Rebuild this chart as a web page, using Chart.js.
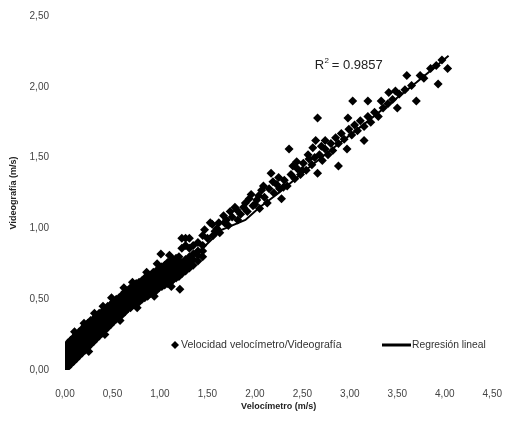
<!DOCTYPE html>
<html lang="es">
<head>
    <meta charset="UTF-8">
    <title>Velocímetro vs Videografía</title>
    <script src="https://cdn.jsdelivr.net/npm/chart.js@4.4.1/dist/chart.umd.min.js"></script>
    <style>
        * { margin: 0; padding: 0; }
        body { background: #fff; }
    </style>
</head>
<body>
<canvas id="myChart" width="512" height="423"></canvas>
<script>
    // banda densa: cada fila = [velocímetro, videografía, videografía, ...]
    var zonaBaja = [
        [0.00, 0.00,0.04,0.08,0.12,0.17],
        [0.03, 0.02,0.06,0.10,0.15,0.19],
        [0.06, 0.04,0.08,0.13,0.17,0.21],
        [0.09, 0.06,0.10,0.15,0.19,0.23],
        [0.12, 0.08,0.12,0.17,0.21,0.25],
        [0.15, 0.10,0.14,0.19,0.23,0.27],
        [0.18, 0.12,0.16,0.21,0.25,0.29],
        [0.21, 0.14,0.18,0.23,0.27,0.31],
        [0.24, 0.16,0.20,0.25,0.29,0.33],
        [0.27, 0.18,0.22,0.27,0.31,0.35],
        [0.30, 0.20,0.24,0.28,0.32,0.36],
        [0.33, 0.22,0.26,0.30,0.34,0.38],
        [0.36, 0.24,0.28,0.32,0.36,0.40],
        [0.39, 0.26,0.30,0.34,0.38,0.41],
        [0.42, 0.28,0.32,0.36,0.40,0.43],
        [0.45, 0.30,0.34,0.38,0.42,0.45],
        [0.48, 0.32,0.36,0.40,0.43,0.46],
        [0.51, 0.34,0.38,0.41,0.45,0.48],
        [0.54, 0.36,0.40,0.43,0.47,0.50],
        [0.57, 0.38,0.41,0.45,0.48,0.51],
        [0.60, 0.39,0.43,0.46,0.50,0.53],
        [0.63, 0.41,0.45,0.48,0.52,0.55],
        [0.66, 0.43,0.46,0.50,0.53,0.56],
        [0.69, 0.44,0.48,0.51,0.55,0.58],
        [0.72, 0.46,0.49,0.53,0.56,0.59],
        [0.75, 0.47,0.51,0.54,0.58,0.61],
        [0.78, 0.48,0.52,0.55,0.59,0.62],
        [0.81, 0.50,0.53,0.57,0.60,0.63],
        [0.84, 0.51,0.55,0.58,0.62,0.65],
        [0.87, 0.52,0.56,0.59,0.63,0.66],
        [0.90, 0.54,0.57,0.61,0.64,0.67],
        [0.93, 0.55,0.59,0.62,0.66,0.69],
        [0.96, 0.56,0.60,0.63,0.67,0.70],
        [0.99, 0.58,0.61,0.65,0.68,0.71],
        [1.01, 0.82],
        [1.02, 0.59,0.63,0.66,0.70,0.73],
        [1.05, 0.60,0.64,0.67,0.71,0.74],
        [1.08, 0.61,0.65,0.69,0.72,0.76],
        [1.11, 0.62,0.66,0.70,0.74,0.77],
        [1.14, 0.64,0.68,0.71,0.75,0.78],
        [1.17, 0.65,0.69,0.72,0.76,0.79],
        [1.20, 0.66,0.70,0.73,0.77,0.80],
        [1.21, 0.57],
        [1.23, 0.68,0.72,0.76,0.86,0.93],
        [1.27, 0.70,0.74,0.78,0.88,0.93],
        [1.31, 0.72,0.76,0.80,0.86,0.93],
        [1.35, 0.74,0.78,0.82,0.88],
        [1.40, 0.77,0.81,0.84,0.90],
        [1.45, 0.80,0.84,0.88,0.95]
    ];

    // puntos que sobresalen de la banda [velocímetro, videografía]
    var bordes = [
        [0.10,0.27],[0.20,0.33],[0.31,0.40],[0.40,0.45],[0.49,0.51],
        [0.62,0.58],[0.71,0.62],[0.86,0.69],[0.97,0.75],[1.10,0.81],
        [0.25,0.13],[0.42,0.25],[0.58,0.35],[0.76,0.44],[0.94,0.52],
        [1.12,0.59]
    ];

    // velocidades altas, puntos sueltos [velocímetro, videografía]
    var zonaAlta = [
        [1.47,0.99],[1.50,0.93],[1.53,1.04],[1.55,1.03],[1.56,0.95],
        [1.58,0.98],[1.60,1.00],[1.62,1.04],[1.63,0.97],[1.67,1.09],
        [1.68,1.04],[1.70,1.06],[1.72,1.02],[1.74,1.12],[1.76,1.08],
        [1.79,1.15],[1.81,1.13],[1.82,1.06],[1.85,1.10],[1.88,1.15],
        [1.90,1.18],[1.92,1.12],[1.94,1.21],[1.96,1.24],[1.98,1.16],
        [2.00,1.17],[2.02,1.20],[2.04,1.23],[2.05,1.14],[2.07,1.27],
        [2.09,1.30],[2.10,1.22],[2.13,1.18],[2.15,1.28],[2.17,1.39],
        [2.19,1.33],[2.20,1.25],[2.23,1.31],[2.25,1.36],[2.26,1.28],
        [2.28,1.21],[2.30,1.29],[2.31,1.34],[2.34,1.30],[2.36,1.56],
        [2.38,1.38],[2.40,1.44],[2.42,1.35],[2.44,1.47],[2.45,1.42],
        [2.48,1.38],[2.50,1.41],[2.51,1.46],[2.54,1.41],[2.56,1.52],
        [2.57,1.49],[2.60,1.45],[2.61,1.57],[2.63,1.50],[2.64,1.62],
        [2.66,1.78],[2.66,1.39],[2.68,1.52],[2.70,1.58],[2.71,1.48],
        [2.74,1.56],[2.74,1.62],[2.77,1.52],[2.80,1.60],[2.82,1.55],
        [2.85,1.64],[2.88,1.44],[2.88,1.60],[2.91,1.67],[2.94,1.63],
        [2.97,1.56],[2.98,1.78],[2.99,1.70],[3.02,1.66],[3.03,1.90],
        [3.05,1.73],[3.08,1.69],[3.11,1.76],[3.15,1.62],[3.15,1.72],
        [3.19,1.90],[3.19,1.79],[3.22,1.75],[3.26,1.82],[3.30,1.79],
        [3.33,1.90],[3.35,1.85],[3.40,1.88],[3.41,1.96],[3.45,1.91],
        [3.48,1.97],[3.50,1.85],[3.52,1.95],[3.58,1.98],[3.60,2.08],
        [3.65,2.01],[3.70,1.90],[3.74,2.08],[3.78,2.06],[3.85,2.13],
        [3.91,2.15],[3.93,2.02],[3.97,2.19],[4.03,2.13]
    ];

    var regX = [0.00, 0.40, 0.80, 1.20, 1.45, 1.65, 1.90, 2.05, 2.25, 2.55, 2.85, 3.10, 3.40, 3.70, 4.04];
    var regY = [0.02, 0.28, 0.53, 0.74, 0.86, 0.99, 1.06, 1.15, 1.25, 1.42, 1.58, 1.71, 1.87, 2.03, 2.22];

    var xTicks = [0, 0.5, 1, 1.5, 2, 2.5, 3, 3.5, 4, 4.5];
    var yTicks = [0, 0.5, 1, 1.5, 2, 2.5];
    var r2 = '0.9857';

    function coma(v) {
        return v.toFixed(2).replace('.', ',');
    }

    var puntos = [];
    zonaBaja.forEach(function (fila) {
        for (var k = 1; k < fila.length; k++) puntos.push({x: fila[0], y: fila[k]});
    });
    bordes.concat(zonaAlta).forEach(function (p) {
        puntos.push({x: p[0], y: p[1]});
    });
    var linea = regX.map(function (x, i) {
        return {x: x, y: regY[i]};
    });

    // leyenda dentro del area y texto del R2
    var extras = {
        id: 'extras',
        afterDraw: function (chart) {
            var c = chart.ctx;
            var sx = chart.scales.x, sy = chart.scales.y;
            c.save();
            c.fillStyle = '#222';
            c.font = '13px Arial, "Liberation Sans"';
            c.textBaseline = 'middle';
            var tx = sx.getPixelForValue(2.63), ty = sy.getPixelForValue(2.15);
            c.fillText('R', tx, ty);
            var w = c.measureText('R').width;
            c.font = '8px Arial, "Liberation Sans"';
            c.fillText('2', tx + w + 0.5, ty - 5);
            c.font = '13px Arial, "Liberation Sans"';
            c.fillText(' = ' + r2, tx + w + 4, ty);

            var ly = 345;
            c.beginPath();
            c.moveTo(175, ly - 4); c.lineTo(179, ly); c.lineTo(175, ly + 4); c.lineTo(171, ly);
            c.closePath();
            c.fillStyle = '#000';
            c.fill();
            c.font = '10.6px Arial, "Liberation Sans"';
            c.fillStyle = '#333';
            c.fillText(chart.data.datasets[0].label, 181, ly);
            c.strokeStyle = '#000';
            c.lineWidth = 3;
            c.beginPath();
            c.moveTo(382, ly); c.lineTo(411, ly);
            c.stroke();
            c.font = '10.3px Arial, "Liberation Sans"';
            c.fillText(chart.data.datasets[1].label, 412, ly);
            c.restore();
        }
    };

    var ctx = document.getElementById('myChart').getContext('2d');
    var myChart = new Chart(ctx, {
        type: 'scatter',
        data: {
            datasets: [{
                label: 'Velocidad velocímetro/Videografía',
                data: puntos,
                pointStyle: 'rectRot',
                pointRadius: 4.5,
                backgroundColor: '#000',
                borderColor: '#000',
                borderWidth: 0
            }, {
                label: 'Regresión lineal',
                data: linea,
                showLine: true,
                borderColor: '#000',
                borderWidth: 2,
                pointRadius: 0,
                fill: false
            }]
        },
        options: {
            responsive: false,
            animation: false,
            layout: {padding: {left: 0, top: 16, right: 12, bottom: 0}},
            plugins: {
                legend: {display: false},
                tooltip: {enabled: false}
            },
            scales: {
                x: {
                    min: 0, max: 4.5,
                    afterBuildTicks: function (s) { s.ticks = xTicks.map(function (v) { return {value: v}; }); },
                    afterFit: function (s) { s.height = 53; },
                    grid: {display: false},
                    border: {display: false},
                    ticks: {
                        padding: 10,
                        color: '#444',
                        font: {family: 'Arial, "Liberation Sans"', size: 10},
                        callback: function (v) { return coma(v); }
                    },
                    title: {
                        display: true,
                        text: 'Velocímetro (m/s)',
                        color: '#222',
                        font: {family: 'Arial, "Liberation Sans"', size: 9, weight: 'bold'},
                        padding: {top: 0, bottom: 11}
                    }
                },
                y: {
                    min: 0, max: 2.5,
                    afterBuildTicks: function (s) { s.ticks = yTicks.map(function (v) { return {value: v}; }); },
                    afterFit: function (s) { s.width = 65; },
                    grid: {display: false},
                    border: {display: false},
                    ticks: {
                        padding: 8,
                        color: '#444',
                        font: {family: 'Arial, "Liberation Sans"', size: 10},
                        callback: function (v) { return coma(v); }
                    },
                    title: {
                        display: true,
                        text: 'Videografía (m/s)',
                        color: '#222',
                        font: {family: 'Arial, "Liberation Sans"', size: 9, weight: 'bold'},
                        padding: {top: 8, bottom: 0}
                    }
                }
            }
        },
        plugins: [extras]
    });
</script>
</body>
</html>
